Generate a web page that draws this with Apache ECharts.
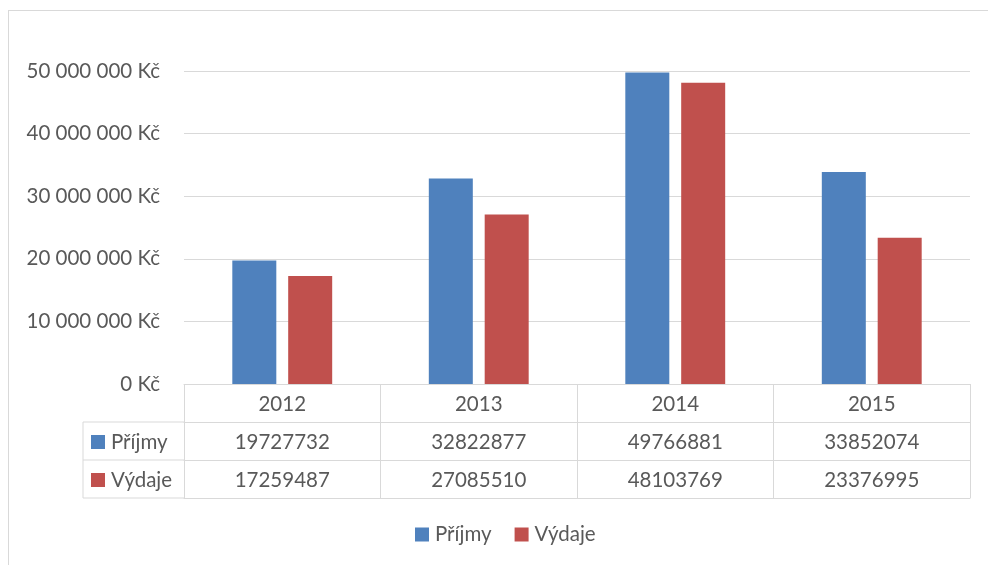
<!DOCTYPE html>
<html>
<head>
<meta charset="utf-8">
<script src="https://cdn.jsdelivr.net/npm/echarts@6/dist/echarts.min.js"></script>
<style>
  html, body { margin: 0; padding: 0; background: #fff; }
  #frame { position: absolute; left: 8px; top: 10px; width: 1000px; height: 600px; border: 1px solid #d9d9d9; }
  #main { position: absolute; left: 0; top: 0; width: 988px; height: 565px; }
</style>
</head>
<body>
<div id="frame"></div>
<div id="main"></div>
<script>
// data
var years = ['2012', '2013', '2014', '2015'];
var prijmy = [19727732, 32822877, 49766881, 33852074];
var vydaje = [17259487, 27085510, 48103769, 23376995];
var seriesNames = ['Příjmy', 'Výdaje'];

var blue = '#4F81BD', red = '#C0504D', txt = '#595959', line = '#D9D9D9';
var font = 'Lato, "Open Sans", sans-serif';
var fs = 20.5;

// plot area / table geometry
var gl = 184, gr = 18, gt = 71, gb = 181;
var rowH = 38;            // table row height
var headL = 83;           // left edge of the row header column
var axisY = 565 - gb;     // y of value 0

function kc(v) {
    if (v === 0) return '0 Kč';
    return String(v).replace(/\B(?=(\d{3})+(?!\d))/g, ' ') + ' Kč';
}

var myChart = echarts.init(document.getElementById('main'), null, { renderer: 'canvas' });

var rowLabel = function (i) {
    return {
        lineHeight: rowH, fontSize: fs, color: txt, fontFamily: font, margin: 1,
        formatter: function (val, idx) { return String((i === 1 ? prijmy : vydaje)[idx]); }
    };
};

var tableLines = [];
// left extension of row borders
[1, 2, 3].forEach(function (k) {
    tableLines.push({ type: 'line', shape: { x1: headL, y1: axisY + k * rowH, x2: gl, y2: axisY + k * rowH },
        style: { stroke: line, lineWidth: 1 } });
});
tableLines.push({ type: 'line', shape: { x1: headL, y1: axisY + rowH, x2: headL, y2: axisY + 3 * rowH },
    style: { stroke: line, lineWidth: 1 } });
// row headers
[0, 1].forEach(function (i) {
    var cy = axisY + rowH * (i + 1) + rowH / 2 + 1;
    tableLines.push({ type: 'rect', shape: { x: 91, y: cy - 7, width: 14, height: 14 },
        style: { fill: i === 0 ? blue : red } });
    tableLines.push({ type: 'text', x: 111, y: cy,
        style: { text: seriesNames[i], fill: txt, font: fs + 'px ' + font, textVerticalAlign: 'middle' } });
});

option = {
    animation: false,
    color: [blue, red],
    grid: { left: gl, right: gr, top: gt, bottom: gb, containLabel: false },
    legend: {
        top: 524, left: 415, padding: 0, icon: 'rect', itemWidth: 14, itemHeight: 14, itemGap: 23,
        textStyle: { color: txt, fontSize: fs, fontFamily: font, lineHeight: 20, padding: [0, 0, 0, 1] },
        data: seriesNames
    },
    xAxis: [
        {
            type: 'category', data: years, position: 'bottom',
            axisLine: { lineStyle: { color: line } },
            axisTick: { show: true, length: 3 * rowH, lineStyle: { color: line } },
            axisLabel: { lineHeight: rowH, fontSize: fs, color: txt, fontFamily: font, margin: 1 }
        },
        {
            type: 'category', data: years, position: 'bottom', offset: rowH,
            axisLine: { lineStyle: { color: line } }, axisTick: { show: false },
            axisLabel: rowLabel(1)
        },
        {
            type: 'category', data: years, position: 'bottom', offset: 2 * rowH,
            axisLine: { lineStyle: { color: line } }, axisTick: { show: false },
            axisLabel: rowLabel(2)
        },
        {
            type: 'category', data: years, position: 'bottom', offset: 3 * rowH,
            axisLine: { lineStyle: { color: line } }, axisTick: { show: false },
            axisLabel: { show: false }
        }
    ],
    yAxis: {
        type: 'value', min: 0, max: 50000000, interval: 10000000,
        axisLine: { show: false }, axisTick: { show: false },
        splitLine: { lineStyle: { color: line } },
        axisLabel: { color: txt, fontSize: fs, fontFamily: font, margin: 24, formatter: kc }
    },
    graphic: tableLines,
    series: [
        { name: seriesNames[0], type: 'bar', data: prijmy, barWidth: 44, barGap: '27%' },
        { name: seriesNames[1], type: 'bar', data: vydaje, barWidth: 44, barGap: '27%' }
    ]
};

myChart.setOption(option);
</script>
</body>
</html>
